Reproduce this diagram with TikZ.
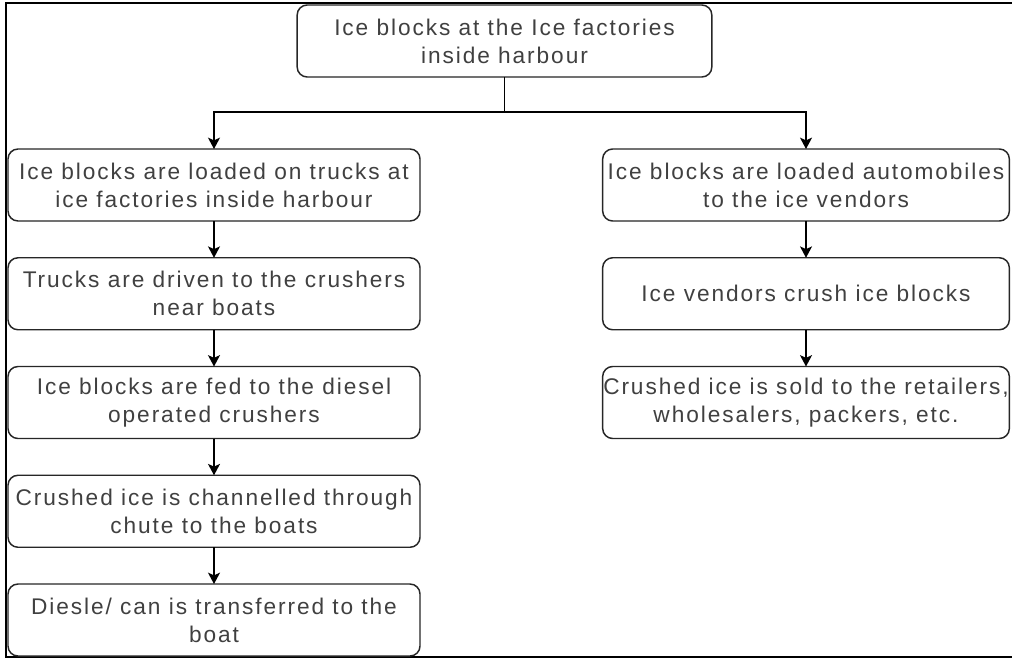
\documentclass[tikz,border=0pt]{standalone}
\usepackage{fontspec}
\setmainfont{Liberation Sans}[LetterSpace=8.5]
\usetikzlibrary{arrows.meta}

\tikzset{
  stage/.style={draw=black!85, line width=1.1pt, rounded corners=7.5pt, fill=white,
    minimum width=309pt, minimum height=54pt, inner xsep=0pt, inner ysep=2pt, outer sep=0pt,
    align=center, text=black!75, font=\fontsize{17}{21}\selectfont},
  flow/.style={line width=1.1pt, draw=black},
  frame/.style={line width=1.6pt, draw=black},
}

\begin{document}
\begin{tikzpicture}[x=0.75pt, y=-0.75pt, >={Stealth[length=8.5pt, width=9pt, inset=2pt]}]
        \useasboundingbox (0,0) rectangle (1012,660);
        \draw[frame] (1012,3) -- (6,3) -- (6,657) -- (1012,657);
        \node [stage, minimum width=311pt] (source) at (504.5,41) {Ice blocks at the Ice factories\\inside harbour};
        \foreach \t [count=\y] in {%left branch, by truck
            {Ice blocks are loaded on trucks at\\ice factories inside harbour},
            {Trucks are driven to the crushers\\near boats},
            {Ice blocks are fed to the diesel\\operated crushers},
            {Crushed ice is channelled through\\chute to the boats},
            {Diesle/ can is transferred to the\\boat}}
          \node [stage] (truck-\y) at (214,185+108.75*\y-108.75) {\t};
        \foreach \t [count=\y] in {%right branch, by vendor
            {Ice blocks are loaded automobiles\\to the ice vendors},
            {Ice vendors crush ice blocks},
            {Crushed ice is sold to the retailers,\\wholesalers, packers, etc.}}
          \node [stage, minimum width=305pt] (vendor-\y) at (806,185+108.75*\y-108.75) {\t};
        \coordinate (split) at (504.5,112);
        \draw [flow] (source) -- (split);
        \draw [flow, ->] (split) -| (truck-1);
        \draw [flow, ->] (split) -| (vendor-1);
        \foreach \i [count=\j from 2] in {1,...,4}
          \draw [flow, ->] (truck-\i) -- (truck-\j);
        \foreach \i [count=\j from 2] in {1,2}
          \draw [flow, ->] (vendor-\i) -- (vendor-\j);
    \end{tikzpicture}
\end{document}
